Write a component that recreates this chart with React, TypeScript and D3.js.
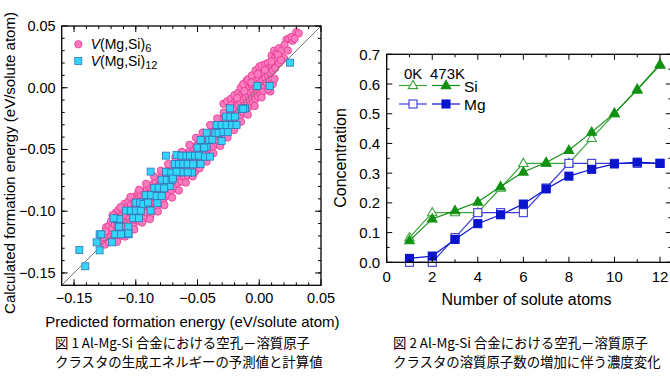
import React from 'react';
import * as d3 from 'd3';

// ---------- Figure 1 data: (predicted, calculated) formation energy ----------
const v6Points: [number, number][] = [
  [-0.127,-0.124],[-0.126,-0.121],[-0.125,-0.127],[-0.124,-0.113],[-0.123,-0.119],[-0.122,-0.112],[-0.122,-0.125],[-0.121,-0.117],[-0.120,-0.108],[-0.120,-0.121],[-0.119,-0.114],[-0.118,-0.104],[-0.118,-0.123],[-0.117,-0.111],[-0.116,-0.101],[-0.116,-0.118],[-0.115,-0.108],[-0.115,-0.113],[-0.114,-0.099],[-0.114,-0.121],[-0.113,-0.105],[-0.112,-0.110],[-0.112,-0.097],[-0.111,-0.116],[-0.111,-0.103],[-0.110,-0.099],[-0.110,-0.108],[-0.109,-0.112],[-0.109,-0.094],[-0.108,-0.103],[-0.108,-0.117],[-0.107,-0.097],[-0.107,-0.109],[-0.106,-0.092],[-0.106,-0.113],[-0.105,-0.101],[-0.105,-0.106],[-0.104,-0.095],[-0.104,-0.110],[-0.103,-0.099],[-0.103,-0.089],[-0.102,-0.104],[-0.102,-0.112],[-0.101,-0.094],[-0.101,-0.099],[-0.100,-0.088],[-0.100,-0.107],[-0.099,-0.096],[-0.099,-0.103],[-0.098,-0.090],[-0.098,-0.085],[-0.097,-0.100],[-0.097,-0.108],[-0.096,-0.092],[-0.096,-0.087],[-0.095,-0.104],[-0.095,-0.097],[-0.094,-0.084],[-0.094,-0.091],[-0.093,-0.099],[-0.093,-0.106],[-0.092,-0.088],[-0.092,-0.095],[-0.091,-0.082],[-0.091,-0.101],[-0.090,-0.092],[-0.090,-0.086],[-0.089,-0.097],[-0.089,-0.080],[-0.088,-0.090],[-0.088,-0.103],[-0.087,-0.084],[-0.087,-0.094],[-0.086,-0.078],[-0.086,-0.099],[-0.085,-0.088],[-0.085,-0.082],[-0.084,-0.093],[-0.084,-0.076],[-0.083,-0.086],[-0.083,-0.097],[-0.082,-0.080],[-0.082,-0.090],[-0.081,-0.074],[-0.081,-0.093],[-0.080,-0.084],[-0.080,-0.078],[-0.079,-0.088],[-0.079,-0.072],[-0.078,-0.081],[-0.078,-0.092],[-0.077,-0.075],[-0.077,-0.085],[-0.076,-0.070],[-0.076,-0.088],[-0.075,-0.079],[-0.075,-0.073],[-0.074,-0.084],[-0.074,-0.067],[-0.073,-0.076],[-0.073,-0.087],[-0.072,-0.070],[-0.072,-0.080],[-0.071,-0.064],[-0.071,-0.083],[-0.070,-0.074],[-0.070,-0.068],[-0.069,-0.078],[-0.069,-0.062],[-0.068,-0.071],[-0.068,-0.081],[-0.067,-0.065],[-0.067,-0.074],[-0.066,-0.059],[-0.066,-0.077],[-0.065,-0.069],[-0.065,-0.063],[-0.064,-0.072],[-0.064,-0.057],[-0.063,-0.066],[-0.063,-0.076],[-0.062,-0.060],[-0.062,-0.069],[-0.061,-0.055],[-0.061,-0.072],[-0.060,-0.064],[-0.060,-0.058],[-0.059,-0.067],[-0.059,-0.053],[-0.058,-0.061],[-0.058,-0.071],[-0.057,-0.055],[-0.057,-0.064],[-0.056,-0.051],[-0.056,-0.067],[-0.055,-0.058],[-0.055,-0.062],[-0.054,-0.053],[-0.054,-0.065],[-0.053,-0.056],[-0.053,-0.049],[-0.052,-0.060],[-0.052,-0.068],[-0.051,-0.052],[-0.051,-0.047],[-0.050,-0.055],[-0.050,-0.062],[-0.049,-0.049],[-0.049,-0.045],[-0.048,-0.057],[-0.048,-0.052],[-0.047,-0.046],[-0.047,-0.060],[-0.046,-0.050],[-0.046,-0.043],[-0.045,-0.054],[-0.045,-0.047],[-0.044,-0.041],[-0.044,-0.051],[-0.043,-0.046],[-0.043,-0.056],[-0.042,-0.039],[-0.042,-0.049],[-0.041,-0.043],[-0.041,-0.053],[-0.040,-0.036],[-0.040,-0.046],[-0.039,-0.041],[-0.039,-0.050],[-0.038,-0.034],[-0.038,-0.044],[-0.037,-0.038],[-0.037,-0.047],[-0.036,-0.031],[-0.036,-0.042],[-0.035,-0.036],[-0.035,-0.045],[-0.034,-0.029],[-0.034,-0.039],[-0.033,-0.034],[-0.033,-0.043],[-0.032,-0.027],[-0.032,-0.037],[-0.031,-0.031],[-0.031,-0.040],[-0.030,-0.025],[-0.030,-0.035],[-0.029,-0.029],[-0.029,-0.038],[-0.029,-0.013],[-0.028,-0.022],[-0.028,-0.033],[-0.027,-0.027],[-0.027,-0.036],[-0.026,-0.020],[-0.026,-0.031],[-0.026,-0.011],[-0.025,-0.024],[-0.025,-0.034],[-0.024,-0.017],[-0.024,-0.028],[-0.023,-0.022],[-0.023,-0.031],[-0.023,-0.009],[-0.022,-0.015],[-0.022,-0.026],[-0.021,-0.019],[-0.021,-0.029],[-0.020,-0.012],[-0.020,-0.023],[-0.020,-0.006],[-0.019,-0.017],[-0.019,-0.027],[-0.018,-0.010],[-0.018,-0.021],[-0.017,-0.014],[-0.017,-0.024],[-0.017,-0.004],[-0.016,-0.008],[-0.016,-0.019],[-0.015,-0.012],[-0.015,-0.022],[-0.015,0.000],[-0.014,-0.006],[-0.014,-0.016],[-0.013,-0.010],[-0.013,-0.020],[-0.013,0.003],[-0.012,-0.004],[-0.012,-0.014],[-0.011,-0.008],[-0.011,-0.018],[-0.010,-0.002],[-0.010,-0.012],[-0.010,0.006],[-0.009,-0.006],[-0.009,-0.016],[-0.009,0.007],[-0.008,0.000],[-0.008,-0.010],[-0.007,-0.004],[-0.007,-0.014],[-0.006,0.002],[-0.006,-0.008],[-0.006,0.010],[-0.005,-0.002],[-0.005,-0.012],[-0.004,0.004],[-0.004,-0.006],[-0.003,0.000],[-0.003,-0.009],[-0.003,0.014],[-0.002,0.006],[-0.002,-0.004],[-0.001,0.002],[-0.001,-0.007],[0.000,0.008],[0.000,-0.002],[0.000,0.017],[0.001,0.004],[0.001,-0.005],[0.002,0.010],[0.002,0.000],[0.002,0.018],[0.003,0.006],[0.003,-0.003],[0.004,0.012],[0.004,0.002],[0.005,0.008],[0.005,0.019],[0.006,0.014],[0.006,0.004],[0.007,0.010],[0.007,0.020],[0.008,0.016],[0.008,0.006],[0.009,0.012],[0.009,-0.003],[0.010,0.018],[0.010,0.007],[0.010,0.026],[0.011,0.014],[0.011,0.003],[0.012,0.020],[0.012,0.030],[0.013,0.016],[0.013,0.025],[0.014,0.028],[0.014,0.022],[0.016,0.032],[0.016,0.020],[0.018,0.030],[0.020,0.024],[0.022,0.039],[0.024,0.040],[0.027,0.038],[0.030,0.045],[0.032,0.044],
  [-0.1245,-0.1165],[-0.1188,-0.1032],[-0.1152,-0.1248],[-0.1124,-0.0968],[-0.1087,-0.1205],[-0.1043,-0.0884],[-0.1012,-0.1148],[-0.0973,-0.0826],[-0.0948,-0.1092],[-0.0917,-0.0778],[-0.0886,-0.1064],[-0.0853,-0.0718],[-0.0821,-0.1003],[-0.0797,-0.0672],[-0.0768,-0.0951],[-0.0738,-0.0618],[-0.0706,-0.0889],[-0.0679,-0.0563],[-0.0651,-0.0832],[-0.0627,-0.0519],[-0.0594,-0.0768],[-0.0566,-0.0462],[-0.0538,-0.0718],[-0.0512,-0.0405],[-0.0483,-0.0652],[-0.0458,-0.0363],[-0.0427,-0.0598],[-0.0398,-0.0302],[-0.0372,-0.0531],[-0.0341,-0.0248],[-0.0316,-0.0472],[-0.0288,-0.0201],[-0.0257,-0.0403],[-0.0232,-0.0142],[-0.0204,-0.0342],[-0.0179,-0.0083],[-0.0148,-0.0275],[-0.0121,-0.0028],[-0.0093,-0.0218],[-0.0064,0.0043],[-0.0037,-0.0148],[-0.0012,0.0112],[0.0019,-0.0078],[0.0046,0.0143],[0.0071,-0.0012],[0.0098,0.0212],[0.0124,0.0072],[0.0152,0.0265],[0.0176,0.0224],[0.0205,0.0348],[0.0232,0.0302],[0.0262,0.0412],[0.0287,0.0398]
];

const v12Points: [number, number][] = [
  [-0.1457,-0.1314],[-0.1409,-0.1446],[-0.1317,-0.1252],[-0.1293,-0.1187],[-0.1279,-0.1187],[-0.1293,-0.1317],[-0.1193,-0.1252],[-0.1166,-0.1187],[-0.1118,-0.1187],[-0.1058,-0.1187],[-0.1166,-0.1063],[-0.1134,-0.1063],[-0.1139,-0.1125],
  [-0.106,-0.1125],[-0.102,-0.1057],[-0.108,-0.0995],[-0.104,-0.0995],[-0.100,-0.0995],[-0.0975,-0.1057],[-0.096,-0.0995],[-0.100,-0.093],[-0.0965,-0.093],[-0.0939,-0.0941],[-0.090,-0.093],[-0.088,-0.0995],[-0.092,-0.087],[-0.0875,-0.087],[-0.0831,-0.0876],[-0.079,-0.0876],[-0.085,-0.081],[-0.0815,-0.081],[-0.0764,-0.0787],[-0.0725,-0.0797],[-0.079,-0.0745],[-0.075,-0.0747],[-0.071,-0.0747],[-0.088,-0.0679],[-0.0755,-0.068],[-0.0712,-0.0687],[-0.0656,-0.0687],[-0.0685,-0.0617],[-0.065,-0.0617],[-0.0615,-0.0617],[-0.058,-0.0617],[-0.0545,-0.0687],[-0.0756,-0.055],[-0.067,-0.0545],[-0.063,-0.055],[-0.059,-0.055],[-0.0561,-0.055],[-0.052,-0.055],[-0.049,-0.055],[-0.044,-0.0558],[-0.040,-0.0558],[-0.0475,-0.0423],[-0.050,-0.0485],[-0.045,-0.0485],[-0.0427,-0.0477],[-0.0426,-0.0364],[-0.0405,-0.0423],[-0.038,-0.042],[-0.0305,-0.0431],[-0.0346,-0.0302],[-0.0305,-0.0302],[-0.0265,-0.0302],[-0.022,-0.0302],[-0.0184,-0.0302],[-0.027,-0.0234],[-0.0235,-0.0234],[-0.0197,-0.0234],[-0.0238,-0.0167],[-0.0116,-0.0167],[-0.0143,-0.017],[-0.013,-0.017],[-0.0016,0.0014],[0.0084,0.0014],[0.0249,0.0203],
  [-0.0625,-0.0685],[-0.058,-0.0685],[-0.0825,-0.0935],[-0.077,-0.0815],[-0.070,-0.0735],[-0.067,-0.068],[-0.0535,-0.062],[-0.0475,-0.0617],[-0.0445,-0.0485],[-0.0355,-0.0365],[-0.033,-0.0365],[-0.029,-0.036],[-0.0255,-0.036],[-0.118,-0.1057],[-0.1135,-0.1125],[-0.106,-0.118]
];

const fig1Ticks = [-0.15, -0.10, -0.05, 0.00, 0.05];
const fig1MinorTicks = [-0.15,-0.14,-0.13,-0.12,-0.11,-0.10,-0.09,-0.08,-0.07,-0.06,-0.05,-0.04,-0.03,-0.02,-0.01,0.00,0.01,0.02,0.03,0.04];

// ---------- Figure 2 data ----------
const nAtoms = [1,2,3,4,5,6,7,8,9,10,11,12];
const si0K = [0.083,0.167,0.167,0.167,0.25,0.333,0.333,0.333,0.417,0.5,0.583,0.667];
const si473K = [0.073,0.146,0.174,0.203,0.255,0.304,0.336,0.377,0.438,0.502,0.58,0.664];
const mg0K = [0,0,0.083,0.167,0.167,0.167,0.25,0.333,0.333,0.333,0.333,0.333];
const mg473K = [0.013,0.021,0.077,0.13,0.16,0.196,0.247,0.29,0.313,0.331,0.337,0.333];
const fig2XTicks = [0,2,4,6,8,10,12];
const fig2XMinor = [1,3,5,7,9,11];
const fig2YTicks = [0,0.1,0.2,0.3,0.4,0.5,0.6,0.7];
const fig2YMinor = [0.05,0.15,0.25,0.35,0.45,0.55,0.65];

const FONT = 'Liberation Sans, Arial, Helvetica, sans-serif';
const JP = '"Noto Sans CJK JP", "Noto Sans CJK SC", sans-serif';

const PINK_FILL = '#fa7cc0';
const PINK_STROKE = '#e8368e';
const CYAN_FILL = '#33d6f8';
const CYAN_STROKE = '#2f74b8';

const GREEN_OPEN = '#3da53d';
const GREEN = '#119111';
const BLUE_OPEN = '#3a3ad8';
const BLUE = '#0a14cc';

function Triangle({ cx, cy, fill, stroke }: { cx: number; cy: number; fill: string; stroke: string }) {
  const s = 9.5;
  const h = s * 0.87;
  const p = `M${cx},${cy - h * 0.62} L${cx + s / 2},${cy + h * 0.38} L${cx - s / 2},${cy + h * 0.38} Z`;
  return <path d={p} fill={fill} stroke={stroke} strokeWidth={1.1} />;
}
function Square({ cx, cy, fill, stroke }: { cx: number; cy: number; fill: string; stroke: string }) {
  const s = 8;
  return <rect x={cx - s / 2} y={cy - s / 2} width={s} height={s} fill={fill} stroke={stroke} strokeWidth={1.1} />;
}

export default function App() {
  const x1 = d3.scaleLinear().domain([-0.16, 0.05]).range([61.7, 321]);
  const y1 = d3.scaleLinear().domain([-0.16, 0.05]).range([285.3, 26]);
  const x2 = d3.scaleLinear().domain([0, 12.5]).range([386.7, 671.4]);
  const y2 = d3.scaleLinear().domain([0, 0.7]).range([262.3, 54.3]);

  const line = (ys: number[]) =>
    d3.line<number>().x((_, i) => x2(nAtoms[i])).y((d) => y2(d))(ys) || '';

  const [l1, r1] = x1.range();
  const [b1, t1] = y1.range();
  const [l2, r2] = x2.range();
  const [b2, t2] = y2.range();

  const fmt1 = (v: number) => (Math.abs(v) < 1e-9 ? '0.00' : d3.format('.2f')(v));

  return (
    <svg width={670} height={380} style={{ position: 'absolute', left: 0, top: 0, background: '#fff' }} fontFamily={FONT}>
      <rect x={0} y={0} width={670} height={380} fill="#fff" />

      {/* ================= Figure 1 ================= */}
      <g>
        {v6Points.map((d, i) => (
          <circle key={'p' + i} cx={x1(d[0])} cy={y1(d[1])} r={3.7} fill={PINK_FILL} stroke={PINK_STROKE} strokeWidth={0.8} />
        ))}
        <line x1={x1(-0.16)} y1={y1(-0.16)} x2={x1(0.05)} y2={y1(0.05)} stroke="#777" strokeWidth={1} />
        {v12Points.map((d, i) => (
          <rect key={'c' + i} x={x1(d[0]) - 3.5} y={y1(d[1]) - 3.5} width={7} height={7} fill={CYAN_FILL} stroke={CYAN_STROKE} strokeWidth={0.8} />
        ))}
        {fig1MinorTicks.map((t) => (
          <g key={'m1' + t} stroke="#000" strokeWidth={1}>
            <line x1={x1(t)} x2={x1(t)} y1={b1} y2={b1 - 3} />
            <line x1={x1(t)} x2={x1(t)} y1={t1} y2={t1 + 3} />
            <line x1={l1} x2={l1 + 3} y1={y1(t)} y2={y1(t)} />
            <line x1={r1} x2={r1 - 3} y1={y1(t)} y2={y1(t)} />
          </g>
        ))}
        {fig1Ticks.map((t) => (
          <g key={'M1' + t} stroke="#000" strokeWidth={1}>
            <line x1={x1(t)} x2={x1(t)} y1={b1} y2={b1 - 6} />
            <line x1={x1(t)} x2={x1(t)} y1={t1} y2={t1 + 6} />
            <line x1={l1} x2={l1 + 6} y1={y1(t)} y2={y1(t)} />
            <line x1={r1} x2={r1 - 6} y1={y1(t)} y2={y1(t)} />
          </g>
        ))}
        <rect x={l1} y={t1} width={r1 - l1} height={b1 - t1} fill="none" stroke="#000" strokeWidth={1.3} />
        {fig1Ticks.map((t) => (
          <text key={'xl1' + t} x={x1(t)} y={b1 + 13} textAnchor="middle" dominantBaseline="central" fontSize={14.5} fill="#000">
            {fmt1(t)}
          </text>
        ))}
        {fig1Ticks.map((t) => (
          <text key={'yl1' + t} x={l1 - 6} y={y1(t)} textAnchor="end" dominantBaseline="central" fontSize={14.5} fill="#000">
            {fmt1(t)}
          </text>
        ))}
        <text x={(l1 + r1) / 2 + 1} y={321} textAnchor="middle" dominantBaseline="central" fontSize={15} fill="#000">
          Predicted formation energy (eV/solute atom)
        </text>
        <text transform={`translate(9,163) rotate(-90)`} textAnchor="middle" dominantBaseline="central" fontSize={15} fill="#000">
          Calculated formation energy (eV/solute atom)
        </text>
        <circle cx={78.3} cy={44.3} r={3.7} fill={PINK_FILL} stroke={PINK_STROKE} strokeWidth={0.8} />
        <text x={90.7} y={44.3} dominantBaseline="central" fontSize={14} fill="#000">
          <tspan fontStyle="italic">V</tspan>(Mg,Si)<tspan fontSize={11} dy={4}>6</tspan>
        </text>
        <rect x={78.3 - 3.5} y={61 - 3.5} width={7} height={7} fill={CYAN_FILL} stroke={CYAN_STROKE} strokeWidth={0.8} />
        <text x={90.7} y={61} dominantBaseline="central" fontSize={14} fill="#000">
          <tspan fontStyle="italic">V</tspan>(Mg,Si)<tspan fontSize={11} dy={4}>12</tspan>
        </text>
      </g>

      {/* ================= Figure 2 ================= */}
      <g>
        <path d={line(si0K)} fill="none" stroke={GREEN_OPEN} strokeWidth={1.2} />
        <path d={line(mg0K)} fill="none" stroke={BLUE_OPEN} strokeWidth={1.2} />
        {si0K.map((v, i) => <Triangle key={'s0' + i} cx={x2(nAtoms[i])} cy={y2(v)} fill="#fff" stroke={GREEN_OPEN} />)}
        {mg0K.map((v, i) => <Square key={'m0' + i} cx={x2(nAtoms[i])} cy={y2(v)} fill="#fff" stroke={BLUE_OPEN} />)}
        <path d={line(si473K)} fill="none" stroke={GREEN} strokeWidth={1.2} />
        <path d={line(mg473K)} fill="none" stroke={BLUE} strokeWidth={1.2} />
        {si473K.map((v, i) => <Triangle key={'s4' + i} cx={x2(nAtoms[i])} cy={y2(v)} fill={GREEN} stroke={GREEN} />)}
        {mg473K.map((v, i) => <Square key={'m4' + i} cx={x2(nAtoms[i])} cy={y2(v)} fill={BLUE} stroke={BLUE} />)}

        {fig2XMinor.map((t) => (
          <g key={'xm2' + t} stroke="#000" strokeWidth={1}>
            <line x1={x2(t)} x2={x2(t)} y1={b2} y2={b2 - 3} />
            <line x1={x2(t)} x2={x2(t)} y1={t2} y2={t2 + 3} />
          </g>
        ))}
        {fig2XTicks.map((t) => (
          <g key={'xM2' + t} stroke="#000" strokeWidth={1}>
            <line x1={x2(t)} x2={x2(t)} y1={b2} y2={b2 - 5.5} />
            <line x1={x2(t)} x2={x2(t)} y1={t2} y2={t2 + 5.5} />
          </g>
        ))}
        {fig2YMinor.map((t) => (
          <g key={'ym2' + t} stroke="#000" strokeWidth={1}>
            <line x1={l2} x2={l2 + 3} y1={y2(t)} y2={y2(t)} />
            <line x1={r2} x2={r2 - 3} y1={y2(t)} y2={y2(t)} />
          </g>
        ))}
        {fig2YTicks.map((t) => (
          <g key={'yM2' + t} stroke="#000" strokeWidth={1}>
            <line x1={l2} x2={l2 + 5.5} y1={y2(t)} y2={y2(t)} />
            <line x1={r2} x2={r2 - 5.5} y1={y2(t)} y2={y2(t)} />
          </g>
        ))}
        <rect x={l2} y={t2} width={r2 - l2} height={b2 - t2} fill="none" stroke="#000" strokeWidth={1.3} />
        {fig2XTicks.map((t) => (
          <text key={'xl2' + t} x={x2(t)} y={b2 + 14.5} textAnchor="middle" dominantBaseline="central" fontSize={15} fill="#000">
            {t}
          </text>
        ))}
        {fig2YTicks.map((t) => (
          <text key={'yl2' + t} x={l2 - 6.5} y={y2(t)} textAnchor="end" dominantBaseline="central" fontSize={15} fill="#000">
            {d3.format('.1f')(t)}
          </text>
        ))}
        <text x={526.5} y={299} textAnchor="middle" dominantBaseline="central" fontSize={16} fill="#000">
          Number of solute atoms
        </text>
        <text transform={`translate(340,158) rotate(-90)`} textAnchor="middle" dominantBaseline="central" fontSize={16} fill="#000">
          Concentration
        </text>
        <text x={404} y={73} dominantBaseline="central" fontSize={15} fill="#000">0K</text>
        <text x={430} y={73} dominantBaseline="central" fontSize={15} fill="#000">473K</text>
        <line x1={399} x2={427} y1={85.5} y2={85.5} stroke={GREEN_OPEN} strokeWidth={1.2} />
        <line x1={432} x2={460} y1={85.5} y2={85.5} stroke={GREEN} strokeWidth={1.2} />
        <Triangle cx={413} cy={85.5} fill="#fff" stroke={GREEN_OPEN} />
        <Triangle cx={446} cy={85.5} fill={GREEN} stroke={GREEN} />
        <text x={464} y={86} dominantBaseline="central" fontSize={15.5} fill="#000">Si</text>
        <line x1={399} x2={427} y1={104} y2={104} stroke={BLUE_OPEN} strokeWidth={1.2} />
        <line x1={432} x2={460} y1={104} y2={104} stroke={BLUE} strokeWidth={1.2} />
        <Square cx={413} cy={104} fill="#fff" stroke={BLUE_OPEN} />
        <Square cx={446} cy={104} fill={BLUE} stroke={BLUE} />
        <text x={464} y={104.5} dominantBaseline="central" fontSize={15.5} fill="#000">Mg</text>
      </g>

      {/* ================= Captions ================= */}
      <g fontFamily={JP} fontSize={13.4} fill="#000">
        <text x={55} y={342}>
          <tspan dominantBaseline="central">図 1 Al-Mg-Si 合金における空孔－溶質原子</tspan>
        </text>
        <text x={55} y={361}>
          <tspan dominantBaseline="central">クラスタの生成エネルギーの予測値と計算値</tspan>
        </text>
        <text x={393} y={342}>
          <tspan dominantBaseline="central">図 2 Al-Mg-Si 合金における空孔－溶質原子</tspan>
        </text>
        <text x={393} y={361}>
          <tspan dominantBaseline="central">クラスタの溶質原子数の増加に伴う濃度変化</tspan>
        </text>
      </g>
    </svg>
  );
}
